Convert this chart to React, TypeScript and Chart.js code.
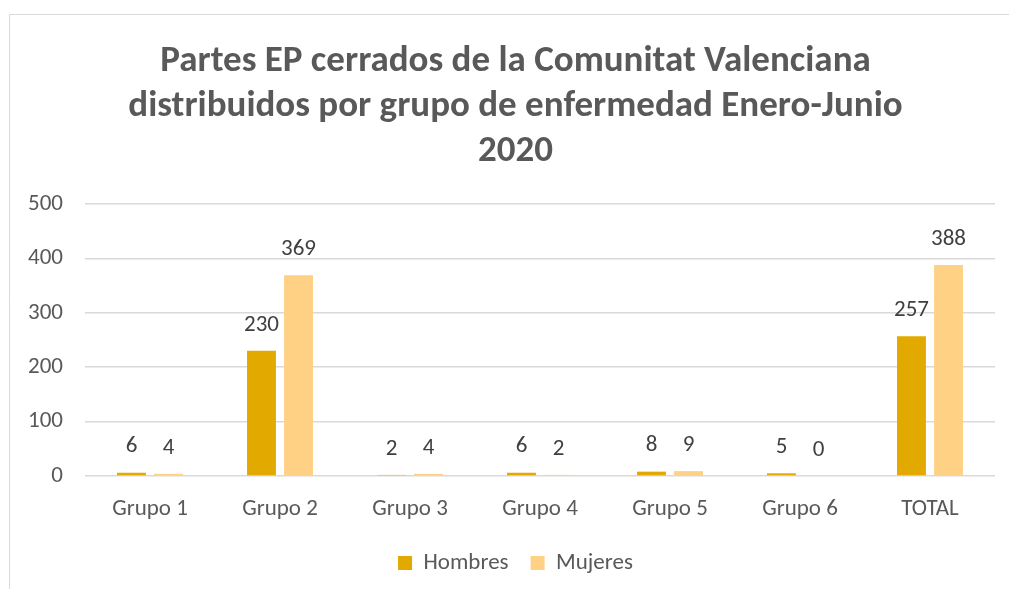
import React, { useEffect, useRef } from "react";
import { Chart, registerables } from "chart.js";

Chart.register(...registerables);

const categories = ["Grupo 1", "Grupo 2", "Grupo 3", "Grupo 4", "Grupo 5", "Grupo 6", "TOTAL"];
const hombres = [6, 230, 2, 6, 8, 5, 257];
const mujeres = [4, 369, 4, 2, 9, 0, 388];
const yTicks = [0, 100, 200, 300, 400, 500];
const titleLines = [
  "Partes EP cerrados de la Comunitat Valenciana",
  "distribuidos por grupo de enfermedad Enero-Junio",
  "2020",
];

const FONT = "Carlito, Lato, 'Open Sans', sans-serif";

const borderPlugin = {
  id: "frameBorder",
  beforeDraw(chart: any) {
    const ctx = chart.ctx;
    ctx.save();
    ctx.fillStyle = "#ffffff";
    ctx.fillRect(0, 0, chart.width, chart.height);
    ctx.strokeStyle = "#d9d9d9";
    ctx.lineWidth = 1;
    ctx.beginPath();
    ctx.moveTo(9.5, chart.height);
    ctx.lineTo(9.5, 14.5);
    ctx.lineTo(chart.width, 14.5);
    ctx.stroke();
    ctx.restore();
  },
};

const valueLabels = {
  id: "valueLabels",
  afterDatasetsDraw(chart: any) {
    const ctx = chart.ctx;
    ctx.save();
    ctx.font = `23px ${FONT}`;
    ctx.fillStyle = "#404040";
    ctx.textAlign = "center";
    ctx.textBaseline = "middle";
    chart.data.datasets.forEach((ds: any, i: number) => {
      const meta = chart.getDatasetMeta(i);
      meta.data.forEach((el: any, j: number) => {
        ctx.fillText(String(ds.data[j]), el.x, el.y - 26);
      });
    });
    ctx.restore();
  },
};

export default function App() {
  const ref = useRef<HTMLCanvasElement | null>(null);
  useEffect(() => {
    if (!ref.current) return;
    const chart = new Chart(ref.current, {
      type: "bar",
      data: {
        labels: categories,
        datasets: [
          {
            label: "Hombres",
            data: hombres,
            backgroundColor: "#E2AA00",
            categoryPercentage: 0.57,
            barPercentage: 0.78,
          },
          {
            label: "Mujeres",
            data: mujeres,
            backgroundColor: "#FFD185",
            categoryPercentage: 0.57,
            barPercentage: 0.78,
          },
        ],
      },
      options: {
        animation: false,
        responsive: false,
        maintainAspectRatio: false,
        layout: { padding: { left: 36, right: 14, top: 28, bottom: 4.5 } },
        plugins: {
          title: {
            display: true,
            text: titleLines,
            color: "#595959",
            font: { family: FONT, size: 37, weight: "bold", lineHeight: 1.216 },
            padding: { top: 11.5, bottom: 29.5 },
          },
          legend: {
            position: "bottom",
            labels: {
              color: "#595959",
              font: { family: FONT, size: 23 },
              boxWidth: 14,
              boxHeight: 14,
              padding: 22,
            },
          },
          tooltip: { enabled: false },
        },
        scales: {
          x: {
            afterFit(scale: any) {
              scale.height = 53.5;
            },
            grid: { display: false },
            border: { display: false },
            ticks: { color: "#595959", font: { family: FONT, size: 23 }, padding: 11 },
          },
          y: {
            min: 0,
            max: 500,
            afterFit(scale: any) {
              scale.width = 49;
              scale._computeLabelArea = () => null;
            },
            afterBuildTicks(scale: any) {
              scale.ticks = yTicks.map((v) => ({ value: v }));
            },
            grid: { color: "#d9d9d9", lineWidth: 1.5, drawTicks: false },
            border: { display: false },
            ticks: { color: "#595959", font: { family: FONT, size: 23 }, padding: 22 },
          },
        },
      },
      plugins: [borderPlugin, valueLabels],
    });
    return () => chart.destroy();
  }, []);
  return (
    <div style={{ position: "fixed", left: 0, top: 0, width: 1009, height: 589, background: "#fff" }}>
      <canvas ref={ref} width={1009} height={589} style={{ display: "block", width: 1009, height: 589 }} />
    </div>
  );
}
